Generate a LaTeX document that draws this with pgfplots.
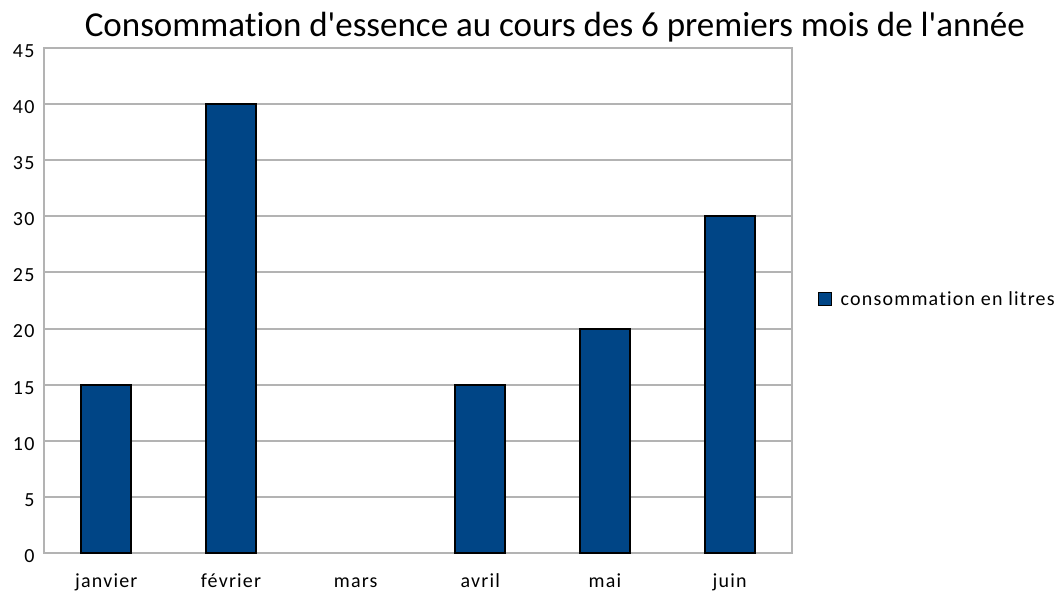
\documentclass[border=0pt]{standalone}
\usepackage{fontspec}
\setmainfont{Carlito}[Ligatures=NoCommon]
\usepackage{pgfplots}
\pgfplotsset{compat=1.18}
\definecolor{barblue}{HTML}{004586}
\definecolor{gridgray}{HTML}{B3B3B3}
\newcommand\smallfont{\fontsize{20}{23}\selectfont\addfontfeature{LetterSpace=6}}
\begin{document}
\begin{tikzpicture}[x=1pt,y=1pt]
\path (0,0) rectangle (1064,594);
\begin{axis}[
 at={(44pt,41pt)}, anchor=south west,
 scale only axis, width=748pt, height=505pt,
 xmin=-0.5, xmax=5.5, ymin=0, ymax=45,
 ytick={0,5,...,45},
 xtick={0,...,5},
 xticklabels={janvier,février,mars,avril,mai,juin},
 major tick length=0pt,
 ymajorgrids, grid style={gridgray, line width=2pt},
 axis line style={gridgray, line width=2pt},
 ticklabel style={font=\smallfont, text=black},
 /pgf/number format/assume math mode=true,
 xticklabel style={anchor=base, yshift=-34pt},
 yticklabel style={xshift=-6pt, yshift=-3pt},
 ybar, bar width=50pt,
 title={Consommation d\textquotesingle essence au cours des 6 premiers mois de l\textquotesingle année},
 title style={font=\fontsize{35}{40}\selectfont, at={(0.683,1)}, anchor=base, yshift=5pt},
 legend style={at={(1.030,0.503)}, anchor=west, draw=none, font=\smallfont},
 legend image code/.code={\draw[#1, line width=1pt] (0pt,-6.5pt) rectangle (13pt,6.5pt);},
]
\addplot[fill=barblue, draw=black, line width=2pt] coordinates {(0,15) (1,40) (3,15) (4,20) (5,30)};
\addlegendentry{\hspace{7pt}consommation en litres}
\end{axis}
\end{tikzpicture}
\end{document}
